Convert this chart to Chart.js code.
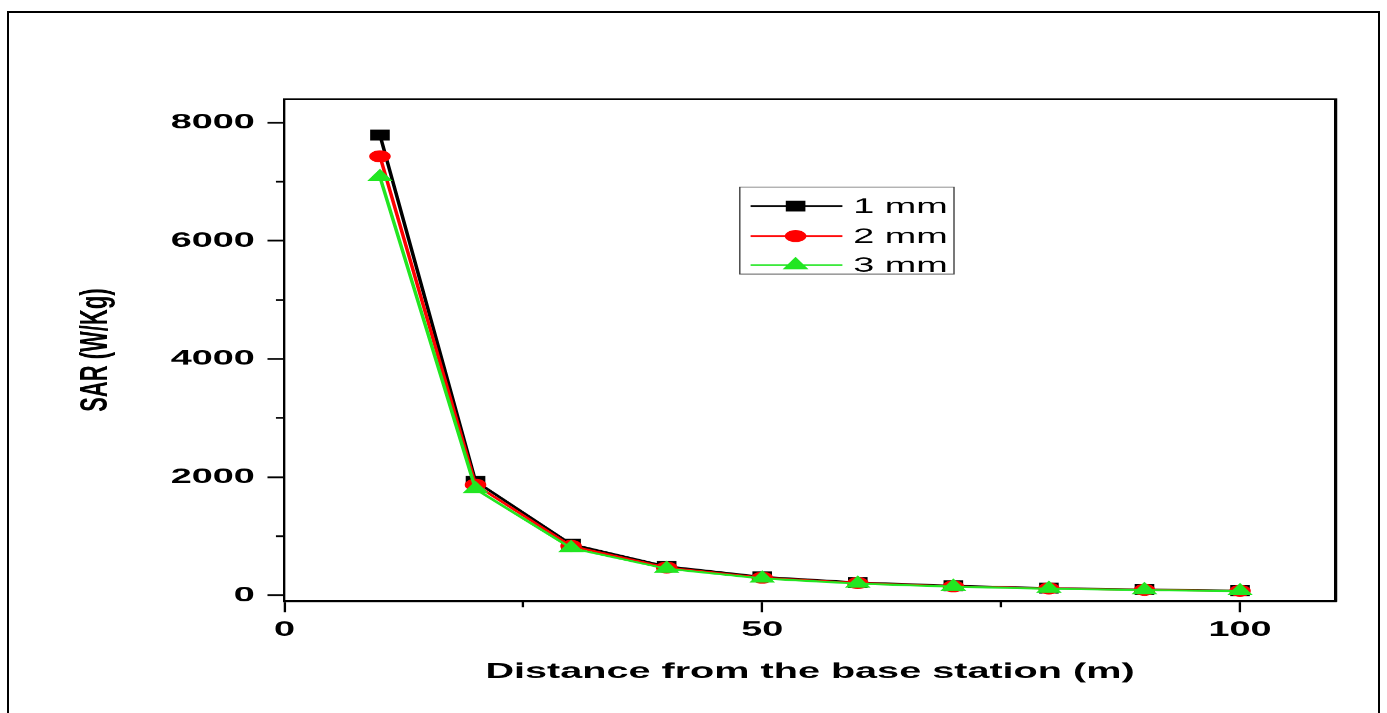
<!DOCTYPE html>
<html>
<head>
<meta charset="utf-8">
<title>SAR vs distance from the base station</title>
<script src="https://cdn.jsdelivr.net/npm/chart.js"></script>
<style>
  html, body { margin: 0; padding: 0; background: #fff; overflow: hidden; }
  #frame {
    position: absolute; left: 7px; top: 11px; width: 1373px; height: 760px;
    box-sizing: border-box; border: 2px solid #000; border-bottom: none;
  }
  #c { position: absolute; left: 0; top: 0; }
</style>
</head>
<body>
<div id="frame"></div>
<canvas id="c" width="770" height="713" style="width:1386px;height:713px"></canvas>
<script>
// The source figure is stretched ~1.8x horizontally (wide squares, wide digits).
// Draw on a narrow canvas and let the pixel ratio widen it back to full width.
const STRETCH = 1.8;

const distances = [10, 20, 30, 40, 50, 60, 70, 80, 90, 100];
const sar1mm = [7790, 1930, 865, 490, 312, 217, 160, 122, 97, 78];
const sar2mm = [7430, 1870, 835, 470, 298, 207, 152, 116, 92, 75];
const sar3mm = [7080, 1800, 800, 450, 285, 198, 146, 111, 88, 71];

const xMajorTicks = [0, 50, 100];
const xMinorTicks = [25, 75];
const yMajorTicks = [0, 2000, 4000, 6000, 8000];
const yMinorTicks = [1000, 3000, 5000, 7000];

const FAMILY = '"Liberation Sans", Arial, Helvetica, sans-serif';
const tickFont = { family: FAMILY, size: 21, weight: 'bold' };
const titleFont = { family: FAMILY, size: 22, weight: 'bold' };

function fixedTicks(values) {
  return (scale) => {
    scale.ticks = values.map((v) => ({ value: v }));
  };
}

function series(label, values, color, style, radius, order) {
  return {
    label,
    data: distances.map((d, i) => ({ x: d, y: values[i] })),
    xAxisID: 'x',
    yAxisID: 'y',
    borderColor: color,
    backgroundColor: color,
    pointBackgroundColor: color,
    pointBorderColor: color,
    pointStyle: style,
    pointRadius: radius,
    pointBorderWidth: 1,
    borderWidth: 2,
    tension: 0,
    order,
  };
}

// boxed legend sitting inside the plot, line + marker + label per series
const boxLegend = {
  id: 'boxLegend',
  afterDatasetsDraw(chart) {
    const ctx = chart.ctx;
    const box = { left: 411, top: 187, right: 530, bottom: 274 };
    const rows = [206, 236, 265];
    ctx.save();
    ctx.strokeStyle = '#444';
    ctx.lineWidth = 0.8;
    ctx.strokeRect(box.left, box.top, box.right - box.left, box.bottom - box.top);
    chart.data.datasets.forEach((ds, i) => {
      const y = rows[i];
      ctx.strokeStyle = ds.borderColor;
      ctx.lineWidth = 1.6;
      ctx.beginPath();
      ctx.moveTo(417, y);
      ctx.lineTo(468, y);
      ctx.stroke();
      ctx.fillStyle = ds.pointBackgroundColor;
      ctx.strokeStyle = ds.pointBorderColor;
      ctx.lineWidth = 1;
      Chart.helpers.drawPoint(ctx, { pointStyle: ds.pointStyle, radius: ds.pointRadius, rotation: 0, borderWidth: 1 }, 442, y);
      ctx.fillStyle = '#000';
      ctx.font = '21px ' + FAMILY;
      ctx.textBaseline = 'middle';
      ctx.textAlign = 'left';
      ctx.fillText(ds.label, 474, y + 1);
    });
    ctx.restore();
  },
};

const hiddenTicks = { display: false };

new Chart(document.getElementById('c'), {
  type: 'line',
  data: {
    datasets: [
      series('1 mm', sar1mm, '#000000', 'rect', 7, 3),
      series('2 mm', sar2mm, '#ff0000', 'circle', 5.5, 2),
      series('3 mm', sar3mm, '#22e622', 'triangle', 7.3, 1),
    ],
  },
  options: {
    responsive: false,
    devicePixelRatio: STRETCH,
    animation: false,
    events: [],
    layout: { padding: { top: 99, right: 28, bottom: 0, left: 0 } },
    plugins: { legend: { display: false }, tooltip: { enabled: false } },
    scales: {
      x: {
        type: 'linear', position: 'bottom', weight: 1, min: 0, max: 110,
        afterBuildTicks: fixedTicks(xMajorTicks),
        afterFit: (s) => { s.height = 112; },
        ticks: { color: '#000', font: tickFont, padding: 5, maxRotation: 0, autoSkip: false, callback: (v) => v },
        grid: { drawOnChartArea: false, tickLength: 11, tickWidth: 1.3, tickColor: '#000' },
        border: { color: '#000', width: 2 },
        title: {
          display: true, text: 'Distance from the base station (m)', color: '#000',
          font: titleFont, padding: { top: 0, bottom: 28 },
        },
      },
      xMinor: {
        type: 'linear', position: 'bottom', weight: 0, min: 0, max: 110,
        afterBuildTicks: fixedTicks(xMinorTicks),
        afterFit: (s) => { s.height = 0; },
        ticks: hiddenTicks,
        grid: { drawOnChartArea: false, tickLength: 6, tickWidth: 1.3, tickColor: '#000' },
        border: { display: false },
      },
      xTop: {
        type: 'linear', position: 'top', min: 0, max: 110,
        afterFit: (s) => { s.height = 0; },
        ticks: hiddenTicks,
        grid: { display: false },
        border: { color: '#000', width: 1.7 },
      },
      y: {
        type: 'linear', position: 'left', weight: 1, min: -100, max: 8400,
        afterBuildTicks: fixedTicks(yMajorTicks),
        afterFit: (s) => { s.width = 158; },
        ticks: { color: '#000', font: tickFont, padding: 7, callback: (v) => v },
        grid: { drawOnChartArea: false, tickLength: 9.4, tickWidth: 1.8, tickColor: '#000' },
        border: { color: '#000', width: 1.3 },
        title: {
          display: true, text: 'SAR (W/Kg)', color: '#000',
          font: titleFont, padding: { top: 40, bottom: 0 },
        },
      },
      yMinor: {
        type: 'linear', position: 'left', weight: 0, min: -100, max: 8400,
        afterBuildTicks: fixedTicks(yMinorTicks),
        afterFit: (s) => { s.width = 0; },
        ticks: hiddenTicks,
        grid: { drawOnChartArea: false, tickLength: 4.7, tickWidth: 1.8, tickColor: '#000' },
        border: { display: false },
      },
      yRight: {
        type: 'linear', position: 'right', min: -100, max: 8400,
        afterFit: (s) => { s.width = 0; },
        ticks: hiddenTicks,
        grid: { display: false },
        border: { color: '#000', width: 1.8 },
      },
    },
  },
  plugins: [boxLegend],
});
</script>
</body>
</html>
